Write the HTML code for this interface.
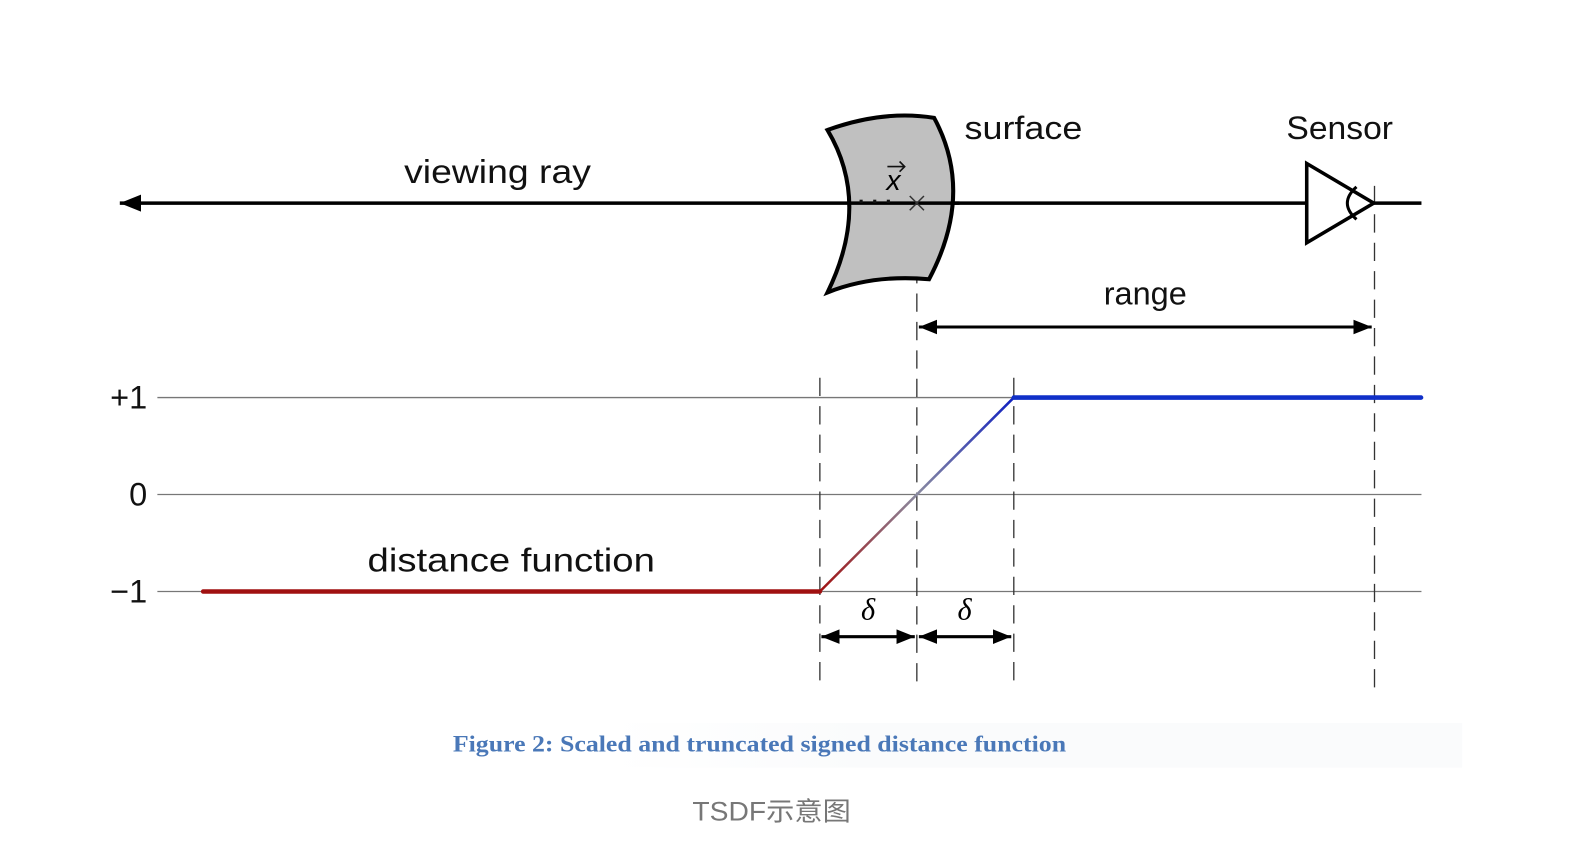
<!DOCTYPE html>
<html><head><meta charset="utf-8"><style>
html,body{margin:0;padding:0;background:#fff;width:1590px;height:854px;overflow:hidden}
svg{display:block}
.t{font-family:"Liberation Sans",sans-serif;fill:#111}
</style></head><body>
<svg id="fig" width="1590" height="854" viewBox="0 0 1566 841" xmlns="http://www.w3.org/2000/svg">
<defs>
<linearGradient id="slope" x1="0" y1="1" x2="1" y2="0">
<stop offset="0" stop-color="#a01010"/><stop offset="0.5" stop-color="#8a8aa0"/><stop offset="1" stop-color="#1020c0"/></linearGradient>
<linearGradient id="band" x1="0" x2="1"><stop offset="0" stop-color="#fff"/><stop offset="0.3" stop-color="#fafbfc"/><stop offset="1" stop-color="#fafbfc"/></linearGradient>
<marker id="ah" viewBox="0 0 10 10" refX="10" refY="5" markerWidth="6" markerHeight="6" orient="auto-start-reverse"><path d="M0,1 L10,5 L0,9 Z" fill="#000"/></marker>
</defs>
<rect x="600" y="712" width="840" height="44" fill="url(#band)"/>
<g id="axes"></g>
<g id="marks"></g>
<line x1="118" y1="200" x2="1400" y2="200" stroke="#000" stroke-width="3.5" marker-start="url(#ah)"/>
<text class="t" x="398" y="180" font-size="33" textLength="184" lengthAdjust="spacingAndGlyphs">viewing ray</text>
<path d="M815,128 Q870,108 920,116 Q960,190 915,275 Q860,270 815,288 Q858,200 815,128 Z" fill="#c0c0c0" stroke="#000" stroke-width="4"/>
<line x1="838" y1="200" x2="945" y2="200" stroke="#000" stroke-width="3.5"/>
<text class="t" x="845" y="206" font-size="22" font-weight="bold">· · ·</text>
<path d="M896,193 L910,207 M910,193 L896,207" stroke="#333" stroke-width="1.5"/>
<text x="873" y="187" font-size="28" font-style="italic" font-family="Liberation Sans,sans-serif">x</text>
<path d="M874,164 L891,164 M886,159 L891,164 L886,169" stroke="#111" stroke-width="1.6" fill="none"/>
<text class="t" x="950" y="137" font-size="32" textLength="116" lengthAdjust="spacingAndGlyphs">surface</text>
<path d="M1287,161 L1353,200 L1287,239 Z" fill="#fff" stroke="#000" stroke-width="3.5"/>
<path d="M1336,184 Q1318,200 1336,216" fill="none" stroke="#000" stroke-width="3"/>
<text class="t" x="1267" y="137" font-size="32" textLength="105" lengthAdjust="spacingAndGlyphs">Sensor</text>
<line x1="905" y1="322" x2="1351" y2="322" stroke="#000" stroke-width="3" marker-start="url(#ah)" marker-end="url(#ah)"/>
<text class="t" x="1128" y="300" font-size="32" text-anchor="middle">range</text>
<text class="t" x="362" y="563" font-size="33" textLength="283" lengthAdjust="spacingAndGlyphs">distance function</text>
<line x1="809" y1="627" x2="901" y2="627" stroke="#000" stroke-width="3" marker-start="url(#ah)" marker-end="url(#ah)"/>
<line x1="905" y1="627" x2="996" y2="627" stroke="#000" stroke-width="3" marker-start="url(#ah)" marker-end="url(#ah)"/>
<text x="855" y="610" font-size="30" font-style="italic" font-family="Liberation Serif,serif" text-anchor="middle">δ</text>
<text x="950" y="610" font-size="30" font-style="italic" font-family="Liberation Serif,serif" text-anchor="middle">δ</text>
<text x="446" y="740" font-size="23" font-weight="bold" font-family="Liberation Serif,serif" fill="#4a78b8" textLength="604" lengthAdjust="spacingAndGlyphs">Figure 2: Scaled and truncated signed distance function</text>
<text x="760" y="808" font-size="26" text-anchor="middle" fill="#777" font-family="Liberation Sans,Noto Sans CJK SC,sans-serif" textLength="156" lengthAdjust="spacingAndGlyphs">TSDF示意图</text>
</svg>
<script>
const xBreaks = [-7.36, -1, 1, 5.2];
const yValues = [-1, -1, 1, 1];
const yTicks = [1, 0, -1];
const yTickLabels = ["+1", "0", "\u22121"];
const dashedAt = [-1, 0, 1, 4.72];
const NS = "http://www.w3.org/2000/svg";
const sx = u => 903 + 95.5 * u;
const sy = v => 487 - 95.5 * v;
const axes = document.getElementById('axes');
const marks = document.getElementById('marks');
function mk(tag, attrs, parent) { const e = document.createElementNS(NS, tag); for (const k in attrs) e.setAttribute(k, attrs[k]); parent.appendChild(e); return e; }
yTicks.forEach((v, i) => {
  const l = mk('line', {x1: 155, x2: 1400, y1: sy(v), y2: sy(v), stroke: '#777', 'stroke-width': 1.3}, axes);
  
  
  const t = mk('text', {x: 145, y: sy(v) + 11, 'font-size': 32, 'text-anchor': 'end', class: 't'}, axes);
  t.textContent = yTickLabels[i];
  
  
});
dashedAt.forEach((u, i) => {
  const top = u === 0 ? 205 : (i === 3 ? 183 : 372);
  const d = mk('line', {x1: sx(u), x2: sx(u), y1: top, y2: 680, stroke: '#333', 'stroke-width': 1.3, 'stroke-dasharray': '18,10'}, axes);
  
  
});
const colors = ['#a01010', 'url(#slope)', '#1030c8'];
for (let i = 0; i < xBreaks.length - 1; i++) {
  const s = mk('line', {x1: sx(xBreaks[i]), y1: sy(yValues[i]), x2: sx(xBreaks[i+1]) + (i===1?0.01:0), y2: sy(yValues[i+1]) + (i===1?0:0.01), stroke: colors[i], 'stroke-width': i === 1 ? 2.5 : 4.5, 'stroke-linecap': 'round'}, marks);
  
  
}
</script>
</body></html>
